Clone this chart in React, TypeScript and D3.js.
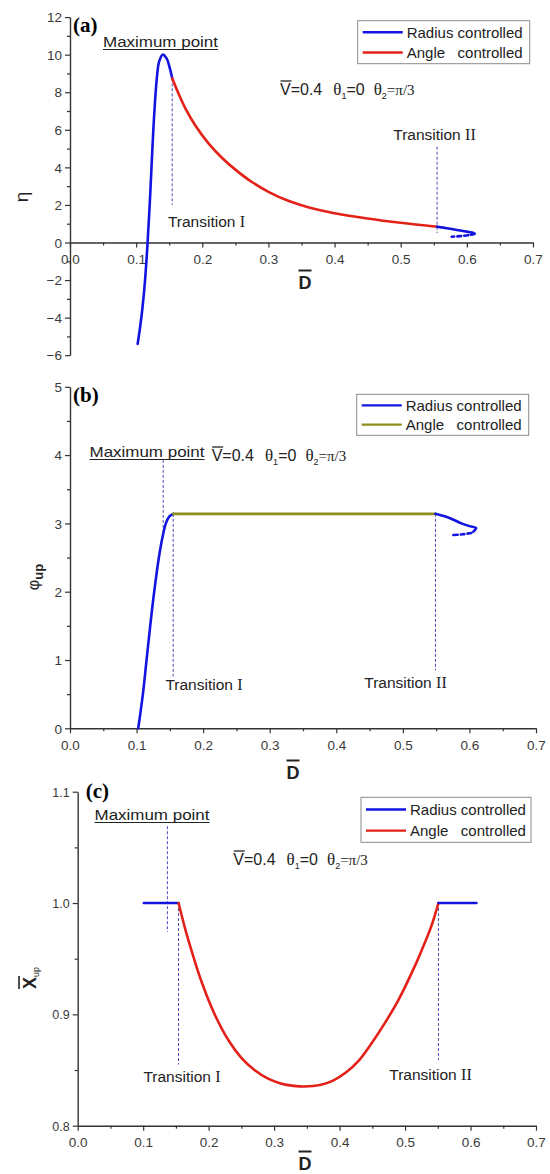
import React, { useEffect, useRef } from "react";
import * as d3 from "d3";

const W = 550;
const H = 1174;

// panel (a): eta vs D-bar
const etaRiseD = [0.1023, 0.106, 0.1095, 0.1135, 0.1173, 0.1205, 0.1232, 0.126, 0.1295, 0.132, 0.1345, 0.14, 0.146, 0.151, 0.1545];
const etaRiseV = [-5.4, -4.5, -3.5, -2.0, 0.0, 2.0, 4.0, 6.0, 8.0, 9.0, 9.6, 10.0, 9.8, 9.27, 8.74];
const etaAngleD = [0.1545, 0.165, 0.175, 0.19, 0.21, 0.23, 0.25, 0.275, 0.3, 0.33, 0.36, 0.4, 0.45, 0.5, 0.555];
const etaAngleV = [8.74, 7.85, 7.1, 6.2, 5.25, 4.5, 3.88, 3.22, 2.7, 2.22, 1.88, 1.56, 1.28, 1.05, 0.84];
const etaTailD = [0.555, 0.57, 0.585, 0.6, 0.61, 0.612, 0.606];
const etaTailV = [0.84, 0.76, 0.67, 0.58, 0.51, 0.46, 0.42];
const etaDashD = [0.602, 0.59, 0.577];
const etaDashV = [0.39, 0.34, 0.31];

// panel (b): phi_up vs D-bar
const phiRiseD = [0.1025, 0.1095, 0.115, 0.1205, 0.1265, 0.1335, 0.139, 0.144, 0.149, 0.155];
const phiRiseV = [0, 0.5, 1.0, 1.5, 2.0, 2.5, 2.8, 3.0, 3.1, 3.14];
const phiAngleD = [0.155, 0.549];
const phiAngleV = [3.14, 3.14];
const phiTailD = [0.549, 0.57, 0.588, 0.6, 0.61, 0.606];
const phiTailV = [3.14, 3.08, 3.0, 2.96, 2.93, 2.88];
const phiDashD = [0.603, 0.59, 0.575];
const phiDashV = [2.86, 2.84, 2.83];

// panel (c): X_up vs D-bar
const xupLeftD = [0.101, 0.154];
const xupLeftV = [1.0, 1.0];
const xupAngleD = [0.154, 0.165, 0.175, 0.19, 0.21, 0.23, 0.25, 0.27, 0.29, 0.31, 0.33, 0.347, 0.37, 0.39, 0.41, 0.43, 0.45, 0.47, 0.49, 0.51, 0.525, 0.54, 0.551];
const xupAngleV = [1.0, 0.975, 0.955, 0.928, 0.899, 0.877, 0.861, 0.85, 0.8425, 0.838, 0.8358, 0.8352, 0.8365, 0.8405, 0.848, 0.859, 0.875, 0.893, 0.913, 0.937, 0.957, 0.979, 1.0];
const xupRightD = [0.551, 0.609];
const xupRightV = [1.0, 1.0];

// dashed guide lines: [D, from, to]
const guidesA = [[0.1545, 8.74, 2.0], [0.555, 5.1, 0.5]];
const guidesB = [[0.14, 3.93, 2.86], [0.155, 3.14, 0.76], [0.549, 3.14, 0.85]];
const guidesC = [[0.137, 1.069, 0.974], [0.154, 1.0, 0.855], [0.551, 1.0, 0.859]];

const xTicks = [0, 0.1, 0.2, 0.3, 0.4, 0.5, 0.6, 0.7];
const xMinor = [0.05, 0.15, 0.25, 0.35, 0.45, 0.55, 0.65];
const yTicksA = [-6, -4, -2, 0, 2, 4, 6, 8, 10, 12];
const yMinorA = [-5, -3, -1, 1, 3, 5, 7, 9, 11];
const yTicksB = [0, 1, 2, 3, 4, 5];
const yMinorB = [0.5, 1.5, 2.5, 3.5, 4.5];
const yTicksC = [0.8, 0.9, 1.0, 1.1];
const yMinorC = [0.85, 0.95, 1.05];

const BLUE = "#1414e0";
const RED = "#e32119";
const OLIVE = "#8d8d1c";
const GUIDE = "#4a4ab8";
const AXIS = "#333";
const SANS = "'Liberation Sans', Arial, sans-serif";
const SERIF = "'Liberation Serif', 'Times New Roman', serif";

const zip = (xs: number[], ys: number[]) => xs.map((d, i) => [d, ys[i]] as [number, number]);

export default function App() {
  const ref = useRef<SVGSVGElement>(null);

  useEffect(() => {
    const svg = d3.select(ref.current);
    svg.selectAll("*").remove();

    const panels = [
      {
        tag: "(a)",
        x: d3.scaleLinear().domain([0, 0.7]).range([70, 533]),
        y: d3.scaleLinear().domain([-6, 12]).range([355.2, 17.1]),
        axisAt: 0,
        yTicks: yTicksA, yMinor: yMinorA, yFmt: d3.format("d"),
        series: [
          { d: zip(etaRiseD, etaRiseV), c: BLUE },
          { d: zip(etaAngleD, etaAngleV), c: RED },
          { d: zip(etaTailD, etaTailV), c: BLUE },
          { d: zip(etaDashD, etaDashV), c: BLUE, dash: "4,3" },
        ],
        angleColor: RED,
        guides: guidesA,
        legend: [357.7, 20.7, 172, 43],
        maxPt: [160.5, 47],
        param: [280, 95],
        t1: [206.5, 227], t2: [434.5, 140],
        dLabel: [305, 289],
      },
      {
        tag: "(b)",
        x: d3.scaleLinear().domain([0, 0.7]).range([70, 536]),
        y: d3.scaleLinear().domain([0, 5]).range([728.3, 386.8]),
        axisAt: 0,
        yTicks: yTicksB, yMinor: yMinorB, yFmt: d3.format("d"),
        series: [
          { d: zip(phiRiseD, phiRiseV), c: BLUE },
          { d: zip(phiAngleD, phiAngleV), c: OLIVE },
          { d: zip(phiTailD, phiTailV), c: BLUE },
          { d: zip(phiDashD, phiDashV), c: BLUE, dash: "4,3" },
        ],
        angleColor: OLIVE,
        guides: guidesB,
        legend: [356.7, 394.3, 172, 41],
        maxPt: [147, 457],
        param: [211.7, 461],
        t1: [204, 690], t2: [405.5, 688],
        dLabel: [293, 779],
      },
      {
        tag: "(c)",
        x: d3.scaleLinear().domain([0, 0.7]).range([77.7, 536]),
        y: d3.scaleLinear().domain([0.8, 1.1]).range([1125.7, 791.7]),
        axisAt: 0.8,
        yTicks: yTicksC, yMinor: yMinorC, yFmt: d3.format(".1f"),
        series: [
          { d: zip(xupLeftD, xupLeftV), c: BLUE },
          { d: zip(xupAngleD, xupAngleV), c: RED },
          { d: zip(xupRightD, xupRightV), c: BLUE },
        ],
        angleColor: RED,
        guides: guidesC,
        legend: [361, 797.3, 170, 45],
        maxPt: [152, 820],
        param: [233.3, 865],
        t1: [182, 1082], t2: [430.5, 1080],
        dLabel: [305, 1170],
      },
    ];

    panels.forEach((p, pi) => {
      const g = svg.append("g");
      const { x, y } = p;
      const y0 = y(p.axisAt);

      // guides first, curves on top
      g.append("g")
        .selectAll("line")
        .data(p.guides)
        .join("line")
        .attr("x1", (d) => x(d[0]))
        .attr("x2", (d) => x(d[0]))
        .attr("y1", (d) => y(d[1]))
        .attr("y2", (d) => y(d[2]))
        .attr("stroke", GUIDE)
        .attr("stroke-width", 1)
        .attr("stroke-dasharray", "3,2");

      // axes
      const xa = g.append("g").attr("transform", `translate(0,${y0})`)
        .call(d3.axisBottom(x).tickValues(xTicks).tickFormat(d3.format(".1f")).tickSize(5).tickSizeOuter(0).tickPadding(7));
      g.append("g").attr("transform", `translate(0,${y0})`)
        .call(d3.axisBottom(x).tickValues(xMinor).tickFormat(() => "").tickSize(3).tickSizeOuter(0))
        .select(".domain").remove();
      const ya = g.append("g").attr("transform", `translate(${x(0)},0)`)
        .call(d3.axisLeft(y).tickValues(p.yTicks).tickFormat(p.yFmt as any).tickSize(5).tickSizeOuter(0).tickPadding(3));
      g.append("g").attr("transform", `translate(${x(0)},0)`)
        .call(d3.axisLeft(y).tickValues(p.yMinor).tickFormat(() => "").tickSize(3).tickSizeOuter(0))
        .select(".domain").remove();
      g.selectAll(".domain").attr("stroke", AXIS).attr("stroke-width", 1.4);
      g.selectAll(".tick line").attr("stroke", AXIS).attr("stroke-width", 1.2);
      [xa, ya].forEach((a) =>
        a.selectAll("text").attr("font-family", SANS).attr("font-size", 13.5).attr("fill", "#3a3a3a")
      );
      ya.selectAll("text").attr("dy", "0.35em");
      if (pi === 2) ya.selectAll("text").attr("font-size", 12.5);

      // curves
      const line = d3.line().curve(d3.curveCatmullRom.alpha(0.5));
      g.append("g")
        .selectAll("path")
        .data(p.series)
        .join("path")
        .attr("d", (s) => line(s.d.map(([a, b]) => [x(a), y(b)]) as [number, number][]))
        .attr("fill", "none")
        .attr("stroke", (s) => s.c)
        .attr("stroke-width", 2.6)
        .attr("stroke-linecap", "round")
        .attr("stroke-linejoin", "round")
        .attr("stroke-dasharray", (s: any) => s.dash || null);

      // panel tag
      g.append("text")
        .attr("x", x(0) + 3 + (pi === 2 ? 5 : 0))
        .attr("y", y(y.domain()[1]) + (pi === 2 ? 6 : 15))
        .attr("font-family", SERIF)
        .attr("font-weight", "bold")
        .attr("font-size", 21)
        .text(p.tag);

      // legend
      const [lx, ly, lw, lh] = p.legend;
      const lg = g.append("g");
      lg.append("rect").attr("x", lx).attr("y", ly).attr("width", lw).attr("height", lh)
        .attr("fill", "white").attr("stroke", "#8a8a8a").attr("stroke-width", 1);
      const items = [
        { t: "Radius controlled", c: BLUE },
        { t: "Angle   controlled", c: p.angleColor },
      ];
      items.forEach((it, i) => {
        const yy = ly + lh * (i === 0 ? 0.27 : 0.74);
        lg.append("line").attr("x1", lx + 5).attr("x2", lx + 45).attr("y1", yy).attr("y2", yy)
          .attr("stroke", it.c).attr("stroke-width", 2.4);
        lg.append("text").attr("x", lx + 49).attr("y", yy + 5.5)
          .attr("font-family", SANS).attr("font-size", 15).attr("fill", "#222")
          .style("white-space", "pre").text(it.t);
      });

      // maximum point
      const [mx, my] = p.maxPt;
      g.append("text").attr("x", mx).attr("y", my).attr("text-anchor", "middle")
        .attr("font-family", SANS).attr("font-size", 15).attr("fill", "#222")
        .attr("textLength", 115).attr("lengthAdjust", "spacingAndGlyphs").text("Maximum point");
      g.append("line").attr("x1", mx - 57.5).attr("x2", mx + 57.5).attr("y1", my + 2.5).attr("y2", my + 2.5)
        .attr("stroke", "#222").attr("stroke-width", 1.2);

      // parameters
      const [px, py] = p.param;
      const pt = g.append("text").attr("x", px).attr("y", py)
        .attr("font-family", SANS).attr("font-size", 16).attr("fill", "#222");
      pt.append("tspan").text("V=0.4");
      pt.append("tspan").attr("dx", 11).attr("font-family", SERIF).attr("font-size", 17).text("θ");
      pt.append("tspan").attr("dy", 4).attr("font-size", 9).text("1");
      pt.append("tspan").attr("dy", -4).text("=0");
      pt.append("tspan").attr("dx", 9).attr("font-family", SERIF).attr("font-size", 17).text("θ");
      pt.append("tspan").attr("dy", 4).attr("font-size", 9).text("2");
      pt.append("tspan").attr("dy", -4).attr("font-family", SERIF).attr("font-size", 15).text("=π/3");
      g.append("line").attr("x1", px + 0.5).attr("x2", px + 11.5).attr("y1", py - 14).attr("y2", py - 14)
        .attr("stroke", "#222").attr("stroke-width", 1.3);

      // transitions
      [[p.t1, "I"], [p.t2, "II"]].forEach(([pos, roman]: any) => {
        const t = g.append("text").attr("x", pos[0]).attr("y", pos[1]).attr("text-anchor", "middle")
          .attr("font-family", SANS).attr("font-size", 15.5).attr("fill", "#222");
        t.append("tspan").text("Transition ");
        t.append("tspan").attr("font-family", SERIF).attr("font-size", 16).text(roman);
      });

      // x label
      const [dx, dy] = p.dLabel;
      g.append("text").attr("x", dx).attr("y", dy).attr("text-anchor", "middle")
        .attr("font-family", SANS).attr("font-weight", "bold").attr("font-size", 18).attr("fill", "#222").text("D");
      g.append("line").attr("x1", dx - 6.5).attr("x2", dx + 6.5).attr("y1", dy - 18.5).attr("y2", dy - 18.5)
        .attr("stroke", "#222").attr("stroke-width", 2);
    });

    // y labels
    svg.append("text").attr("transform", "translate(28,197) rotate(-90)").attr("text-anchor", "middle")
      .attr("font-family", SANS).attr("font-size", 19).attr("fill", "#222").text("η");
    const phi = svg.append("text").attr("transform", "translate(39,577) rotate(-90)").attr("text-anchor", "middle")
      .attr("font-family", SANS).attr("font-size", 16).attr("fill", "#222");
    phi.append("tspan").text("φ");
    phi.append("tspan").attr("dy", 4).attr("font-weight", "bold").attr("font-size", 13).text("up");
    const xu = svg.append("text").attr("transform", "translate(36,978) rotate(-90)").attr("text-anchor", "middle")
      .attr("font-family", SANS).attr("font-size", 18).attr("fill", "#222");
    xu.append("tspan").attr("font-weight", "bold").text("X");
    xu.append("tspan").attr("dy", 3).attr("font-size", 9).text("up");
    svg.append("line").attr("x1", 19).attr("x2", 19).attr("y1", 976).attr("y2", 989)
      .attr("stroke", "#222").attr("stroke-width", 1.6);
  }, []);

  return (
    <svg
      ref={ref}
      width={W}
      height={H}
      style={{ position: "absolute", left: 0, top: 0, background: "white" }}
    />
  );
}
